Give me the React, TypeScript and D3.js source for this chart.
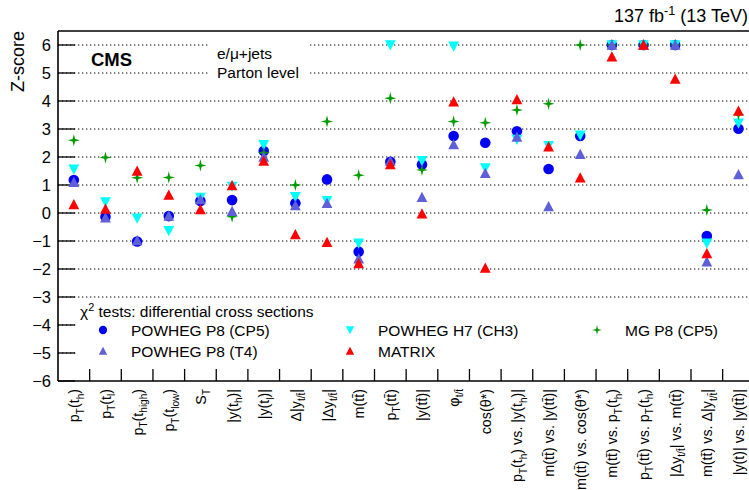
import React from "react";
import * as d3 from "d3";

// Observables (markup: _{..} subscript, ^{..} superscript)
const categories: string[] = [
  "p_{T}(t_{h})",
  "p_{T}(t_{l})",
  "p_{T}(t_{high})",
  "p_{T}(t_{low})",
  "S_{T}",
  "|y(t_{h})|",
  "|y(t_{l})|",
  "Δ|y_{t/t̄}|",
  "|Δy_{t/t̄}|",
  "m(tt̄)",
  "p_{T}(tt̄)",
  "|y(tt̄)|",
  "φ_{t/t̄}",
  "cos(θ*)",
  "p_{T}(t_{h}) vs. |y(t_{h})|",
  "m(tt̄) vs. |y(tt̄)|",
  "m(tt̄) vs. cos(θ*)",
  "m(tt̄) vs. p_{T}(t_{h})",
  "p_{T}(tt̄) vs. p_{T}(t_{h})",
  "|Δy_{t/t̄}| vs. m(tt̄)",
  "m(tt̄) vs. Δ|y_{t/t̄}|",
  "|y(t)| vs. |y(tt̄)|",
];

// Z-scores per prediction (values beyond 6 are shown at 6)
const powhegP8CP5: number[] = [1.18, -0.13, -1.02, -0.11, 0.43, 0.46, 2.21, 0.35, 1.2, -1.38, 1.83, 1.73, 2.75, 2.51, 2.92, 1.57, 2.75, 6, 6, 6, -0.82, 3.01];
const powhegH7CH3: number[] = [1.56, 0.39, -0.19, -0.64, 0.55, 0.94, 2.43, 0.58, 0.43, -1.08, 6, 1.86, 5.95, 1.6, 2.62, 2.4, 2.77, 6, 6, 6, -1.08, 3.2];
const mgP8CP5: number[] = [2.6, 1.98, 1.26, 1.27, 1.7, -0.13, 2.15, 1.0, 3.27, 1.35, 4.1, 1.54, 3.27, 3.22, 3.68, 3.9, 6, 6, 6, 6, 0.11, 3.52];
const powhegP8T4: number[] = [1.1, -0.17, -0.98, -0.1, 0.49, 0.07, 2.0, 0.27, 0.35, -1.63, 1.86, 0.57, 2.45, 1.42, 2.72, 0.24, 2.1, 6, 6, 6, -1.74, 1.38];
const matrix: number[] = [0.31, 0.15, 1.5, 0.65, 0.13, 0.99, 1.86, -0.76, -1.04, -1.8, 1.74, -0.02, 3.98, -1.96, 4.06, 2.37, 1.26, 5.58, 6, 4.79, -1.44, 3.65];

const yTicks: number[] = [-6, -5, -4, -3, -2, -1, 0, 1, 2, 3, 4, 5, 6];

type Shape = "circle" | "down" | "up" | "star";
interface Series {
  name: string;
  values: number[];
  color: string;
  shape: Shape;
}

// drawing order: later series sit on top
const series: Series[] = [
  { name: "POWHEG P8 (CP5)", values: powhegP8CP5, color: "#0000f5", shape: "circle" },
  { name: "POWHEG H7 (CH3)", values: powhegH7CH3, color: "#00ffff", shape: "down" },
  { name: "MG P8 (CP5)", values: mgP8CP5, color: "#009a00", shape: "star" },
  { name: "POWHEG P8 (T4)", values: powhegP8T4, color: "#5f5fd9", shape: "up" },
  { name: "MATRIX", values: matrix, color: "#ff0000", shape: "up" },
];

const legendRows: { name: string; col: number; row: number }[] = [
  { name: "POWHEG P8 (CP5)", col: 0, row: 0 },
  { name: "POWHEG H7 (CH3)", col: 1, row: 0 },
  { name: "MG P8 (CP5)", col: 2, row: 0 },
  { name: "POWHEG P8 (T4)", col: 0, row: 1 },
  { name: "MATRIX", col: 1, row: 1 },
];

const W = 749;
const H = 490;
const FONT = "'Liberation Sans', Arial, Helvetica, sans-serif";

const left = 58;
const top = 31;
const bottom = 381;
const right = 754.3;

const x = d3
  .scaleBand<number>()
  .domain(d3.range(categories.length))
  .range([left, right])
  .padding(0);
const y = d3.scaleLinear().domain([-6, 6.5]).range([bottom, top]);

function markerPath(shape: Shape, s: number): string {
  const p = d3.path();
  if (shape === "circle") {
    p.arc(0, 0, s, 0, Math.PI * 2);
    p.closePath();
  } else if (shape === "up") {
    p.moveTo(0, -s);
    p.lineTo(s, s * 0.9);
    p.lineTo(-s, s * 0.9);
    p.closePath();
  } else if (shape === "down") {
    p.moveTo(0, s);
    p.lineTo(s, -s * 0.9);
    p.lineTo(-s, -s * 0.9);
    p.closePath();
  } else {
    const inner = s * 0.3;
    for (let k = 0; k < 8; k++) {
      const a = (k * Math.PI) / 4 - Math.PI / 2;
      const r = k % 2 === 0 ? s * 1.05 : inner;
      const px = r * Math.cos(a);
      const py = r * Math.sin(a);
      if (k === 0) p.moveTo(px, py);
      else p.lineTo(px, py);
    }
    p.closePath();
  }
  return p.toString();
}

function markerSize(shape: Shape, legend: boolean): number {
  const base = shape === "circle" ? 5.3 : shape === "star" ? 5.8 : 5.4;
  return legend ? base * 0.78 : base;
}

// Split "_{..}" / "^{..}" markup into tspans with shifted baselines
function RichText({ text, size }: { text: string; size: number }) {
  const parts: { t: string; kind: "n" | "sub" | "sup" }[] = [];
  const re = /([_^])\{([^}]*)\}/g;
  let last = 0;
  let m: RegExpExecArray | null;
  while ((m = re.exec(text)) !== null) {
    if (m.index > last) parts.push({ t: text.slice(last, m.index), kind: "n" });
    parts.push({ t: m[2], kind: m[1] === "_" ? "sub" : "sup" });
    last = m.index + m[0].length;
  }
  if (last < text.length) parts.push({ t: text.slice(last), kind: "n" });
  const subShift = size * 0.3;
  const supShift = -size * 0.4;
  let cur = 0;
  return (
    <>
      {parts.map((p, i) => {
        const target = p.kind === "sub" ? subShift : p.kind === "sup" ? supShift : 0;
        const dy = target - cur;
        cur = target;
        return (
          <tspan key={i} dy={dy} fontSize={p.kind === "n" ? size : size * 0.7}>
            {p.t}
          </tspan>
        );
      })}
    </>
  );
}

export default function App() {
  const gridTicks = yTicks.filter((t) => t > -6);
  const legCols = [103, 350, 597];
  const legRowsY = [330, 351];

  return (
    <svg
      width={W}
      height={H}
      viewBox={`0 0 ${W} ${H}`}
      style={{ position: "absolute", left: 0, top: 0, background: "#fff" }}
      fontFamily={FONT}
    >
      <rect x={0} y={0} width={W} height={H} fill="#fff" />

      {/* dotted horizontal grid */}
      {gridTicks.map((t) => (
        <line
          key={`g${t}`}
          x1={left}
          x2={right}
          y1={y(t)}
          y2={y(t)}
          stroke="#000"
          strokeWidth={1}
          strokeDasharray="1.3 2.7"
        />
      ))}

      {/* white patch behind the channel label */}
      <rect x={209} y={37} width={100} height={45} fill="#fff" />

      {/* legend background */}
      <rect x={76} y={301} width={right - 76} height={66} fill="#fff" />

      {/* x ticks at category boundaries */}
      {d3.range(1, categories.length).map((i) => (
        <line
          key={`xt${i}`}
          x1={x(i)!}
          x2={x(i)!}
          y1={bottom}
          y2={bottom - 12}
          stroke="#000"
          strokeWidth={1.3}
        />
      ))}

      {/* y ticks and labels */}
      {yTicks.map((t) => (
        <g key={`yt${t}`}>
          <line x1={left} x2={left + 17} y1={y(t)} y2={y(t)} stroke="#000" strokeWidth={1.3} />
          <text
            x={51}
            y={y(t)}
            dy="0.36em"
            textAnchor="end"
            fontSize={16.5}
            fill="#000"
          >
            {t < 0 ? `−${Math.abs(t)}` : `${t}`}
          </text>
        </g>
      ))}

      {/* frame */}
      <line x1={left} x2={left} y1={top} y2={bottom} stroke="#000" strokeWidth={1.6} />
      <line x1={left} x2={right} y1={bottom} y2={bottom} stroke="#000" strokeWidth={1.6} />
      <line x1={left} x2={right} y1={top} y2={top} stroke="#000" strokeWidth={1.6} />

      {/* markers */}
      {series.map((s) => (
        <g key={s.name}>
          {s.values.map((v, i) => (
            <path
              key={i}
              d={markerPath(s.shape, markerSize(s.shape, false))}
              transform={`translate(${x(i)! + x.bandwidth() / 2},${y(v)})`}
              fill={s.color}
            />
          ))}
        </g>
      ))}

      {/* category labels */}
      {categories.map((c, i) => (
        <text
          key={`xl${i}`}
          transform={`translate(${x(i)! + x.bandwidth() / 2 + 5.5},389) rotate(-90)`}
          textAnchor="end"
          fontSize={14.3}
          fill="#000"
        >
          <RichText text={c} size={14.3} />
        </text>
      ))}

      {/* axis title */}
      <text
        transform="translate(24,31) rotate(-90)"
        textAnchor="end"
        fontSize={18}
        fill="#000"
      >
        Z-score
      </text>

      {/* header */}
      <text x={748} y={22} textAnchor="end" fontSize={18} fill="#000">
        <RichText text="137 fb^{-1} (13 TeV)" size={18} />
      </text>
      <text x={91} y={66} fontSize={18.5} fontWeight="bold" fill="#000">
        CMS
      </text>
      <text x={217} y={59} fontSize={15.5} fill="#000">
        e/μ+jets
      </text>
      <text x={217} y={78} fontSize={15.5} fill="#000">
        Parton level
      </text>

      {/* legend */}
      <text x={80} y={317} fontSize={15.5} fill="#000">
        <RichText text="χ^{2} tests: differential cross sections" size={15.5} />
      </text>
      {legendRows.map((r) => {
        const s = series.find((d) => d.name === r.name)!;
        const cx = legCols[r.col];
        const cy = legRowsY[r.row];
        return (
          <g key={`lg${r.name}`}>
            <path
              d={markerPath(s.shape, markerSize(s.shape, true))}
              transform={`translate(${cx},${cy})`}
              fill={s.color}
            />
            <text x={cx + 28} y={cy} dy="0.36em" fontSize={15.5} fill="#000">
              {s.name}
            </text>
          </g>
        );
      })}
    </svg>
  );
}
